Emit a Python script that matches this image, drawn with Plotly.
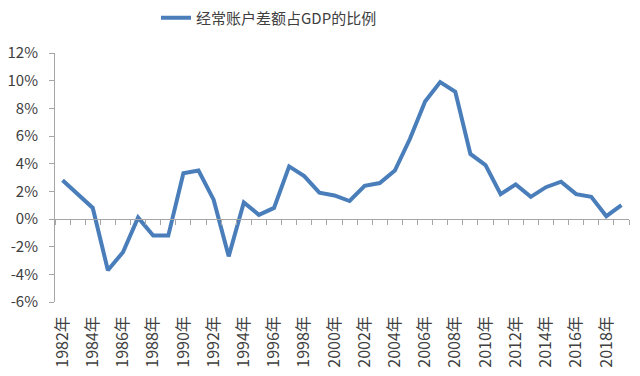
import plotly.graph_objects as go

years = list(range(1982, 2020))
ratio = [2.8, 1.8, 0.8, -3.7, -2.4, 0.1, -1.2, -1.2, 3.3, 3.5, 1.4, -2.7,
         1.2, 0.3, 0.8, 3.8, 3.1, 1.9, 1.7, 1.3, 2.4, 2.6, 3.5, 5.8, 8.5,
         9.9, 9.2, 4.7, 3.9, 1.8, 2.5, 1.6, 2.3, 2.7, 1.8, 1.6, 0.2, 1.0]
label_years = list(range(1982, 2019, 2))
label_text = [f"{y}年" for y in label_years]
y_ticks = list(range(-6, 13, 2))
series_name = "经常账户差额占GDP的比例"

FONT = "Noto Sans CJK SC, sans-serif"
AXIS_GRAY = "#A6A6A6"
TEXT = "#404040"

fig = go.Figure()
fig.add_trace(go.Scatter(x=years, y=ratio, mode="lines", name=series_name,
                         line=dict(color="#4A7EBB", width=4)))
# invisible trace to activate the zero-line axis
fig.add_trace(go.Scatter(x=[years[0]], y=[ratio[0]], xaxis="x2", mode="markers",
                         marker=dict(opacity=0), showlegend=False, hoverinfo="skip"))

ymin, ymax = -6, 12
fig.update_layout(
    width=640, height=376,
    margin=dict(l=47, r=19, t=45, b=82, autoexpand=False),
    paper_bgcolor="white", plot_bgcolor="white",
    font=dict(family=FONT, size=15, color=TEXT),
    showlegend=True,
    legend=dict(orientation="h", x=148 / 640, xanchor="left", xref="container",
                y=1 - 10 / 376, yanchor="middle", yref="container",
                font=dict(size=15, family=FONT, color=TEXT), itemwidth=30),
    xaxis=dict(range=[1981.5, 2019.5], tickmode="array", tickvals=label_years,
               ticktext=label_text, tickangle=-90, showline=False, showgrid=False,
               zeroline=False, ticks="", automargin=False, ticklabelstandoff=10,
               tickfont=dict(size=16, color=TEXT)),
    xaxis2=dict(range=[1981.5, 2019.5], overlaying="x", anchor="free",
                position=(0 - ymin) / (ymax - ymin), side="bottom",
                tickmode="linear", tick0=1981.5, dtick=1, ticks="outside",
                ticklen=5, tickcolor=AXIS_GRAY, showticklabels=False,
                showline=True, linecolor=AXIS_GRAY, linewidth=1,
                showgrid=False, zeroline=False, automargin=False),
    yaxis=dict(range=[ymin, ymax], tickmode="array", tickvals=y_ticks,
               ticktext=[f"{v}%" for v in y_ticks], showline=True,
               linecolor=AXIS_GRAY, linewidth=1, ticks="outside", ticklen=5,
               tickcolor=AXIS_GRAY, showgrid=False, zeroline=False,
               ticklabelstandoff=8, automargin=False,
               tickfont=dict(size=15, color=TEXT)),
)
fig.write_html("out.html")
